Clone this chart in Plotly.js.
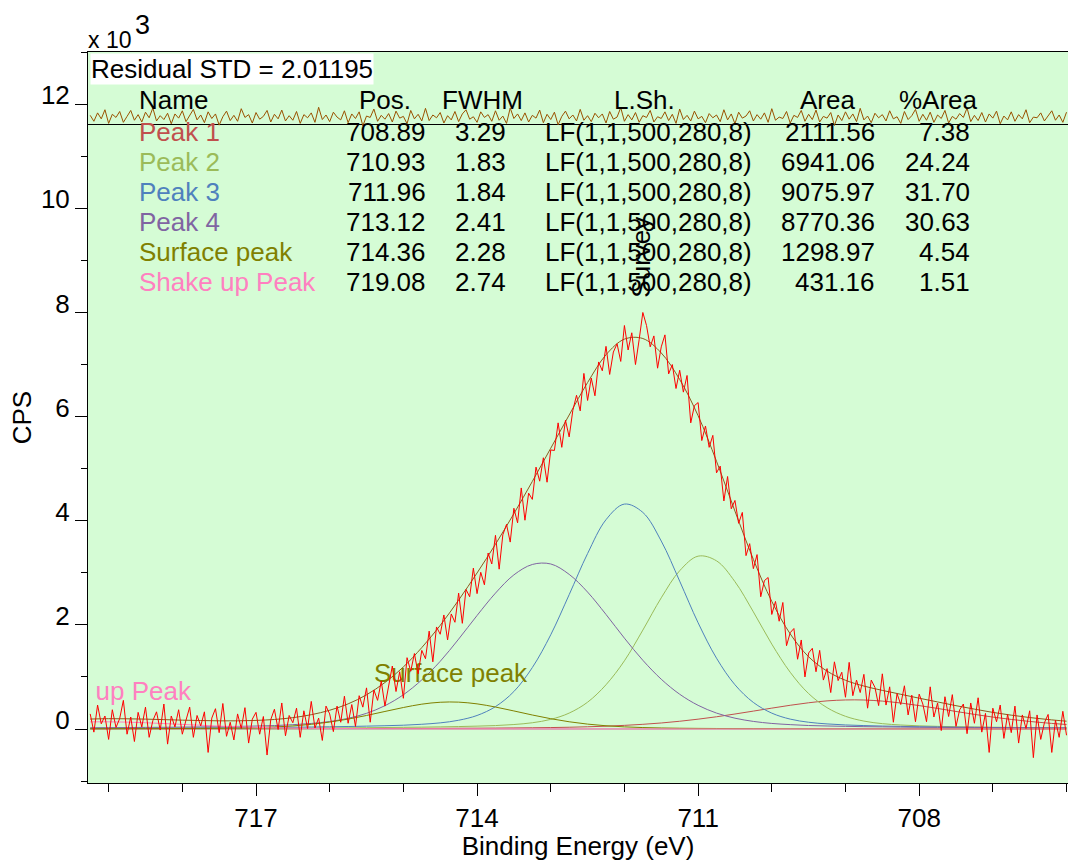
<!DOCTYPE html>
<html><head><meta charset="utf-8">
<script src="https://cdn.plot.ly/plotly-3.0.1.min.js"></script>
<style>html,body{margin:0;padding:0;background:#fff;}#chart{width:1068px;height:861px;}</style>
</head><body><div id="chart"></div>
<script>
// ---- values (counts in thousands of CPS, matching the "x 10^3" axis) ----
const fitEnergy = [719.25,719,718.75,718.5,718.25,718,717.75,717.5,717.25,717,716.75,716.5,716.25,716,715.75,715.5,715.25,715,714.75,714.5,714.25,714,713.75,713.5,713.25,713,712.75,712.5,712.25,712,711.75,711.5,711.25,711,710.75,710.5,710.25,710,709.75,709.5,709.25,709,708.75,708.5,708.25,708,707.75,707.5,707.25,707,706.75,706.5,706.25,706];
const background = [0,0,0,0,0,0,0,0,0,0,0,0,0,0,0,0,0,0,0,0,0,0,0,0,0,0,0,0,0,0,0,0,0,0,0,0,0,0,0,0,0,0,0,0,0,0,0,0,0,0,0,0,0,0];
const peak1 = [0.004,0.004,0.005,0.005,0.005,0.005,0.006,0.006,0.006,0.007,0.007,0.008,0.008,0.009,0.009,0.010,0.011,0.011,0.012,0.013,0.015,0.016,0.018,0.021,0.024,0.028,0.034,0.043,0.054,0.07,0.09,0.116,0.149,0.189,0.235,0.288,0.344,0.401,0.456,0.504,0.54,0.558,0.557,0.536,0.499,0.45,0.395,0.337,0.281,0.229,0.184,0.145,0.113,0.087];
const peak2 = [0.008,0.009,0.009,0.010,0.011,0.011,0.012,0.013,0.014,0.015,0.016,0.017,0.019,0.021,0.023,0.025,0.029,0.032,0.036,0.041,0.047,0.055,0.066,0.086,0.12,0.185,0.306,0.515,0.85,1.31,1.90,2.52,3.04,3.32,3.23,2.83,2.25,1.63,1.09,0.68,0.41,0.244,0.152,0.103,0.077,0.061,0.051,0.044,0.039,0.034,0.031,0.027,0.025,0.022];
const peak3 = [0.013,0.015,0.015,0.017,0.018,0.019,0.021,0.023,0.025,0.028,0.031,0.034,0.038,0.043,0.048,0.055,0.063,0.073,0.091,0.118,0.168,0.26,0.43,0.72,1.18,1.81,2.58,3.37,4.02,4.32,4.16,3.61,2.84,2.04,1.36,0.85,0.51,0.305,0.19,0.13,0.098,0.078,0.066,0.057,0.05,0.044,0.039,0.035,0.032,0.029,0.026,0.024,0.022,0.020];
const peak4 = [0.024,0.026,0.028,0.031,0.033,0.037,0.040,0.045,0.050,0.057,0.066,0.083,0.107,0.144,0.205,0.301,0.448,0.658,0.944,1.30,1.727,2.18,2.61,2.96,3.16,3.17,2.97,2.63,2.20,1.745,1.32,0.956,0.668,0.455,0.306,0.208,0.146,0.107,0.084,0.067,0.058,0.051,0.045,0.041,0.037,0.033,0.031,0.028,0.026,0.024,0.022,0.021,0.019,0.018];
const surfacePeak = [0.005,0.006,0.007,0.007,0.008,0.010,0.012,0.014,0.019,0.026,0.039,0.059,0.09,0.133,0.19,0.26,0.337,0.413,0.477,0.514,0.516,0.483,0.422,0.347,0.269,0.198,0.139,0.094,0.062,0.041,0.028,0.02,0.015,0.012,0.01,0.008,0.007,0.007,0.006,0.005,0.005,0.004,0.004,0.004,0.003,0.003,0.003,0.003,0.003,0.002,0.002,0.002,0.002,0.002];
const shakeUpPeak = [0.137,0.138,0.132,0.12,0.105,0.088,0.072,0.056,0.043,0.032,0.024,0.017,0.013,0.01,0.008,0.006,0.005,0.005,0.004,0.004,0.003,0.003,0.003,0.002,0.002,0.002,0.002,0.002,0.002,0.002,0.002,0.001,0.001,0.001,0.001,0.001,0.001,0.001,0.001,0.001,0.001,0.001,0.001,0.001,0.001,0.001,0.001,0.001,0.001,0.001,0.001,0.001,0.001,0.001];
const envelope = [0.191,0.198,0.196,0.19,0.18,0.17,0.163,0.157,0.157,0.165,0.183,0.218,0.275,0.36,0.483,0.657,0.893,1.192,1.564,1.99,2.476,2.997,3.549,4.136,4.755,5.393,6.031,6.654,7.188,7.488,7.50,7.223,6.713,6.017,5.142,4.185,3.258,2.451,1.827,1.387,1.112,0.936,0.825,0.742,0.667,0.592,0.52,0.448,0.382,0.319,0.266,0.22,0.182,0.15];

const dataEnergy = [
719.25,719.2,719.15,719.1,719.05,719,718.95,718.9,718.85,718.8,
718.75,718.7,718.65,718.6,718.55,718.5,718.45,718.4,718.35,718.3,
718.25,718.2,718.15,718.1,718.05,718,717.95,717.9,717.85,717.8,
717.75,717.7,717.65,717.6,717.55,717.5,717.45,717.4,717.35,717.3,
717.25,717.2,717.15,717.1,717.05,717,716.95,716.9,716.85,716.8,
716.75,716.7,716.65,716.6,716.55,716.5,716.45,716.4,716.35,716.3,
716.25,716.2,716.15,716.1,716.05,716,715.95,715.9,715.85,715.8,
715.75,715.7,715.65,715.6,715.55,715.5,715.45,715.4,715.35,715.3,
715.25,715.2,715.15,715.1,715.05,715,714.95,714.9,714.85,714.8,
714.75,714.7,714.65,714.6,714.55,714.5,714.45,714.4,714.35,714.3,
714.25,714.2,714.15,714.1,714.05,714,713.95,713.9,713.85,713.8,
713.75,713.7,713.65,713.6,713.55,713.5,713.45,713.4,713.35,713.3,
713.25,713.2,713.15,713.1,713.05,713,712.95,712.9,712.85,712.8,
712.75,712.7,712.65,712.6,712.55,712.5,712.45,712.4,712.35,712.3,
712.25,712.2,712.15,712.1,712.05,712,711.95,711.9,711.85,711.8,
711.75,711.7,711.65,711.6,711.55,711.5,711.45,711.4,711.35,711.3,
711.25,711.2,711.15,711.1,711.05,711,710.95,710.9,710.85,710.8,
710.75,710.7,710.65,710.6,710.55,710.5,710.45,710.4,710.35,710.3,
710.25,710.2,710.15,710.1,710.05,710,709.95,709.9,709.85,709.8,
709.75,709.7,709.65,709.6,709.55,709.5,709.45,709.4,709.35,709.3,
709.25,709.2,709.15,709.1,709.05,709,708.95,708.9,708.85,708.8,
708.75,708.7,708.65,708.6,708.55,708.5,708.45,708.4,708.35,708.3,
708.25,708.2,708.15,708.1,708.05,708,707.95,707.9,707.85,707.8,
707.75,707.7,707.65,707.6,707.55,707.5,707.45,707.4,707.35,707.3,
707.25,707.2,707.15,707.1,707.05,707,706.95,706.9,706.85,706.8,
706.75,706.7,706.65,706.6,706.55,706.5,706.45,706.4,706.35,706.3,
706.25,706.2,706.15,706.1,706.05,706];
const measuredCPS = [
0.29,-0.06,0.46,0.10,0.25,-0.20,0.37,0.03,0.20,0.55,
-0.10,0.23,-0.24,0.32,0.04,0.42,-0.16,0.16,0.33,-0.02,
0.48,-0.29,0.25,0.04,0.37,-0.10,0.17,0.42,-0.16,0.26,
0.06,0.33,-0.45,0.21,0.39,-0.07,0.49,-0.14,0.13,-0.21,
0.29,0.01,0.41,-0.27,0.19,0.32,-0.10,0.24,-0.50,0.18,
0.38,-0.01,0.50,-0.13,0.26,0.12,0.40,-0.16,0.35,0.01,
0.53,0.02,0.21,-0.22,0.44,0.29,-0.05,0.44,0.13,0.63,
0.11,0.47,0.05,0.64,0.42,0.79,0.13,0.75,0.55,0.92,
0.44,0.85,1.21,0.72,1.10,0.59,1.37,1.11,1.45,1.06,
1.51,1.35,1.88,1.29,1.96,1.82,2.19,1.71,2.21,2.05,
2.61,2.03,2.68,2.54,3.09,2.60,3.01,2.77,3.38,3.17,
3.72,3.07,3.73,3.93,3.59,4.24,3.96,4.63,4.01,4.53,
4.41,5.03,4.76,5.21,4.74,5.36,5.35,5.88,5.41,5.93,
5.61,6.12,6.41,6.11,6.83,6.31,6.74,6.40,7.05,6.88,
7.35,6.81,7.24,7.40,7.06,7.75,7.28,7.61,7.00,7.48,
8.00,7.75,7.34,7.55,6.93,7.34,7.57,6.82,7.00,6.54,
6.89,6.47,6.79,5.88,6.21,6.27,5.54,5.82,5.41,5.64,
4.92,5.05,4.38,4.85,4.23,4.39,3.95,4.16,3.33,3.56,
3.08,3.35,2.54,2.85,2.91,2.20,2.45,2.07,2.43,1.60,
1.85,1.93,1.34,1.71,1.00,1.46,1.55,1.10,1.51,0.94,
1.16,0.70,1.29,0.93,1.09,0.61,1.28,0.64,0.94,0.70,
1.05,0.40,0.94,0.80,0.45,1.06,0.46,0.81,0.13,0.68,
0.47,0.83,0.27,0.65,0.14,0.67,0.48,0.14,0.81,0.23,
0.50,-0.03,0.62,0.24,0.66,0.05,0.37,0.48,-0.09,0.50,
0.11,0.60,-0.06,0.30,-0.45,0.40,0.14,0.46,-0.18,0.28,
-0.07,0.44,-0.27,0.27,0.01,0.35,-0.55,0.27,-0.20,0.12,
0.28,-0.45,0.17,-0.16,0.34,-0.12];
const residual = [
2.5,0.8,3.2,1.5,4.1,0.2,2.8,1.9,3.6,0.5,
2.2,3.9,1.1,2.7,0.6,3.4,1.8,4.6,0.9,2.4,
1.3,3.1,0.1,2.9,1.7,3.8,0.7,2.3,4.2,1.2,
2.6,0.4,3.5,1.6,2.9,-0.3,2.1,3.7,1.0,2.5,
0.8,4.4,1.9,2.7,0.3,3.3,1.4,2.2,3.9,0.6,
2.8,1.5,4.0,0.9,2.4,1.1,3.6,0.2,2.7,1.8,
3.2,0.5,4.8,1.3,2.6,0.7,3.4,2.0,1.2,3.8,
0.4,2.9,1.6,3.5,-0.5,2.3,1.9,4.3,0.8,2.5,
1.4,3.0,0.6,3.7,1.7,2.2,0.1,3.9,1.5,2.8,
0.9,4.5,1.0,2.6,1.8,3.3,0.3,2.4,1.2,3.6,
0.7,2.9,4.1,1.4,2.1,0.5,3.5,1.9,2.7,0.8,
3.8,1.1,2.3,0.2,4.6,1.6,2.9,1.0,3.2,0.6,
2.5,1.7,4.0,0.4,2.8,1.3,3.4,-0.2,2.2,3.7,
1.5,2.6,0.9,4.2,1.1,2.4,0.7,3.1,1.8,2.9,
0.3,3.6,1.4,2.0,4.7,0.8,2.7,1.2,3.3,0.5,
2.4,1.9,3.9,0.6,2.1,1.6,3.5,1.0,2.8,0.2,
4.3,1.3,2.5,0.9,3.7,1.5,2.2,0.4,3.0,1.8,
2.6,0.7,4.1,1.2,2.9,0.1,3.4,1.7,2.3,3.8,
0.9,2.7,1.4,3.2,0.5,4.4,1.1,2.0,1.6,3.6,
0.3,2.5,1.9,3.9,0.8,2.8,1.3,4.0,0.6,2.2,
1.7,3.3,-0.4,2.6,1.0,3.5,1.4,2.9,0.7,4.5,
1.2,2.3,0.4,3.1,1.8,2.7,0.9,3.8,1.5,2.1,
0.2,3.6,1.3,2.4,4.2,0.8,2.8,1.1,3.4,0.5,
2.6,1.6,3.9,0.3,2.2,1.4,3.0,1.9,4.6,0.7,
2.5,1.0,3.3,0.6,2.9,1.7,3.7,0.1,2.3,1.2,
3.5,0.8,2.7,1.5,4.1,0.4,2.0,1.8,3.2,0.9,
2.4,3.8,1.1,2.6,0.5,3.4];

// table of the fitted components
const peakNames = ['Peak 1','Peak 2','Peak 3','Peak 4','Surface peak','Shake up Peak'];
const peakPos = [708.89,710.93,711.96,713.12,714.36,719.08];
const peakFWHM = [3.29,1.83,1.84,2.41,2.28,2.74];
const peakLineShape = ['LF(1,1,500,280,8)','LF(1,1,500,280,8)','LF(1,1,500,280,8)','LF(1,1,500,280,8)','LF(1,1,500,280,8)','LF(1,1,500,280,8)'];
const peakArea = [2111.56,6941.06,9075.97,8770.36,1298.97,431.16];
const peakPctArea = [7.38,24.24,31.70,30.63,4.54,1.51];
const tableHeaders = ['Name','Pos.','FWHM','L.Sh.','Area','%Area'];
const residualSTD = '2.01195';
// in-plot labels
const labelNames = ['Surface peak','Shake up Peak'];
const labelEnergy = [714.36,719.08];
const labelHeight = [1.02,0.69];
const regionName = 'Survey';
const regionEnergy = 711.77;
const regionHeight = 9.06;

// ---- styling ----
const FONT = 'Arial, "Liberation Sans", sans-serif';
const peakColors = ['#c0504d','#9bbb59','#4f81bd','#8064a2','#808000','#ff80c0'];
const W = 1068, H = 861, ML = 88, MR = 0, MT = 52, MB = 78;
const PW = W - ML - MR, PH = H - MT - MB;
const pX = px => (px - ML) / PW;
const pY = py => (H - MB - py) / PH;

const comps = [peak1, peak2, peak3, peak4, surfacePeak, shakeUpPeak];
const traces = [];
traces.push({x: fitEnergy, y: background, mode:'lines', line:{color:'#b08a8a', width:1}, hoverinfo:'skip'});
comps.forEach((c, k) => traces.push({x: fitEnergy, y: c, mode:'lines', line:{color: peakColors[k], width:1, shape:'spline', smoothing:1}, name: peakNames[k]}));
traces.push({x: fitEnergy, y: envelope, mode:'lines', line:{color:'#8c5a1e', width:1, shape:'spline', smoothing:1}, name:'Envelope'});
traces.push({x: labelEnergy, y: labelHeight, mode:'text', text: labelNames, textposition:'middle center',
  textfont:{family: FONT, size: 26, color: [peakColors[4], peakColors[5]]}, cliponaxis: true});
traces.push({x: dataEnergy, y: measuredCPS, mode:'lines', line:{color:'#ff0000', width:1}, name:'Data'});
traces.push({x: dataEnergy, y: residual, yaxis:'y2', mode:'lines', line:{color:'#9a5200', width:1}, name:'Residual'});

const ann = [];
ann.push({xref:'paper', yref:'paper', x:pX(86), y:pY(40), xanchor:'left', yanchor:'middle', showarrow:false,
  text:'x 10', font:{family:FONT, size:23, color:'#000'}});
ann.push({xref:'paper', yref:'paper', x:pX(133), y:pY(25), xanchor:'left', yanchor:'middle', showarrow:false,
  text:'3', font:{family:FONT, size:27, color:'#000'}});
ann.push({xref:'paper', yref:'paper', x:pX(90), y:pY(53), xanchor:'left', yanchor:'top', showarrow:false,
  bgcolor:'#ffffff', borderpad:0, text:'Residual STD = ' + residualSTD, font:{family:FONT, size:26, color:'#000'}});
ann.push({xref:'x', yref:'y', x: regionEnergy, y: regionHeight, textangle:-90, showarrow:false,
  text: regionName, font:{family:FONT, size:26, color:'#000'}});

// table layout (pixel positions of columns)
const headY = 100, rowStep = 30;
const headX = [137, 385, 482, 644, 827, 938];
const headAnchor = ['left','center','center','center','center','center'];
tableHeaders.forEach((h, c) => ann.push({xref:'paper', yref:'paper', x:pX(headX[c]), y:pY(headY), xanchor:headAnchor[c], yanchor:'middle',
  showarrow:false, text:h, font:{family:FONT, size:26, color:'#000'}}));
const colX = [137, 428, 508, 543, 877, 972];
const colAnchor = ['left','right','right','left','right','right'];
peakNames.forEach((n, r) => {
  const y = pY(headY + rowStep * (r + 1) + 2);
  const cells = [n, peakPos[r].toFixed(2), peakFWHM[r].toFixed(2), peakLineShape[r], peakArea[r].toFixed(2), peakPctArea[r].toFixed(2)];
  cells.forEach((t, c) => ann.push({xref:'paper', yref:'paper', x:pX(colX[c]), y:y, xanchor:colAnchor[c], yanchor:'middle', showarrow:false,
    text:t, font:{family:FONT, size:26, color: c === 0 ? peakColors[r] : '#000'}}));
});

const layout = {
  width: W, height: H, margin:{l:ML, r:MR, t:MT, b:MB, pad:0},
  paper_bgcolor:'#ffffff', plot_bgcolor:'#d5fcd5', showlegend:false,
  font:{family:FONT, size:26, color:'#000'},
  xaxis:{range:[719.28, 705.98], autorange:false, showgrid:false, zeroline:false,
    showline:true, linecolor:'#000', linewidth:1, mirror:true,
    ticks:'outside', tick0:708, dtick:3, ticklen:12, tickwidth:1, tickcolor:'#000',
    minor:{dtick:1, ticks:'outside', ticklen:8, tickwidth:1, tickcolor:'#000', showgrid:false},
    tickfont:{family:FONT, size:26, color:'#000'},
    title:{text:'Binding Energy (eV)', font:{family:FONT, size:26, color:'#000'}, standoff:5}},
  yaxis:{range:[-1.037, 13.003], autorange:false, showgrid:false, zeroline:false,
    showline:true, linecolor:'#000', linewidth:1,
    ticks:'outside', tick0:0, dtick:2, ticklen:12, tickwidth:1, tickcolor:'#000',
    minor:{dtick:1, ticks:'outside', ticklen:6, tickwidth:1, tickcolor:'#000', showgrid:false},
    ticklabelshift:-9,
    tickfont:{family:FONT, size:26, color:'#000'},
    title:{text:'CPS', font:{family:FONT, size:26, color:'#000'}, standoff:1}},
  yaxis2:{overlaying:'y', range:[-188.3, 20.6], autorange:false, showgrid:false, showticklabels:false,
    ticks:'', showline:false, zeroline:true, zerolinecolor:'#000', zerolinewidth:1},
  annotations: ann
};
Plotly.newPlot('chart', traces, layout, {staticPlot:true, displayModeBar:false});
</script>
</body></html>
